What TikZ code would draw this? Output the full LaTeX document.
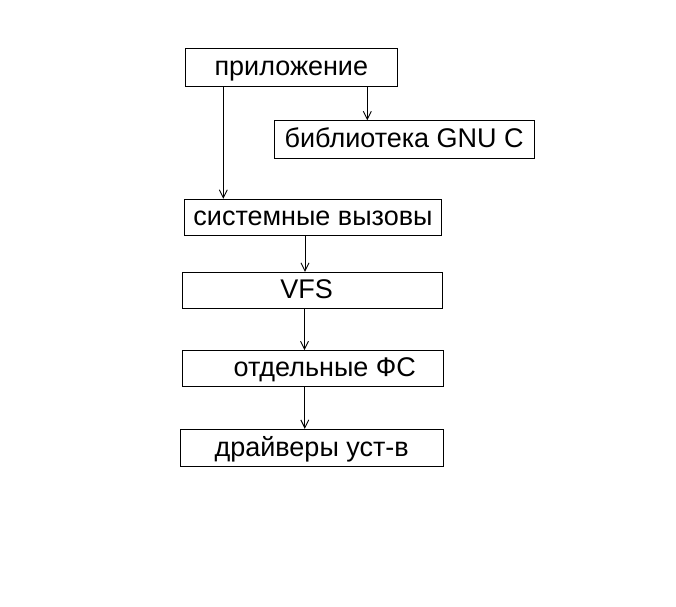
\documentclass[tikz,border=0pt]{standalone}
\usepackage{fontspec}
\setmainfont{Liberation Sans}
\usetikzlibrary{arrows.meta}
\begin{document}
\begin{tikzpicture}[x=1pt, y=-1pt, line width=0.9pt,
    every node/.style={font=\fontsize{27}{32}\selectfont},
    box/.style={draw, inner sep=0pt, text height=16pt, text depth=0pt, minimum height=36pt},
    arr/.style={-{Straight Barb[length=8pt,width=8pt]}}]
  \useasboundingbox (0,0) rectangle (676,606);

  % boxes
  \node[box, minimum width=212.7pt, minimum height=38.4pt] (app) at (291.3,67.5) {приложение};
  \node[box, minimum width=259.7pt, minimum height=37.6pt] (lib) at (404.2,139.5) {библиотека GNU C};
  \node[box, minimum width=257.4pt] (sys) at (313,217.2) {системные вызовы};
  \node[box, minimum width=260.4pt] (vfs) at (312.5,290.3) {\hspace*{-12pt}VFS};
  \node[box, minimum width=261pt, minimum height=35.3pt] (fs) at (312.8,368.3) {\hspace*{24pt}отдельные ФС};
  \node[box, minimum width=263.3pt, minimum height=37.4pt] (drv) at (311.7,448) {драйверы уст-в};

  % arrows
  \draw[arr] ([xshift=-68pt]app.south) -- ([xshift=-68pt]app.south |- sys.north);
  \draw[arr] ([xshift=76pt]app.south) -- ([xshift=76pt]app.south |- lib.north);
  \draw[arr] ([xshift=-8pt]sys.south) -- ([xshift=-8pt]sys.south |- vfs.north);
  \draw[arr] ([xshift=-8pt]vfs.south) -- ([xshift=-8pt]vfs.south |- fs.north);
  \draw[arr] ([xshift=-8pt]fs.south) -- ([xshift=-8pt]fs.south |- drv.north);
\end{tikzpicture}
\end{document}
